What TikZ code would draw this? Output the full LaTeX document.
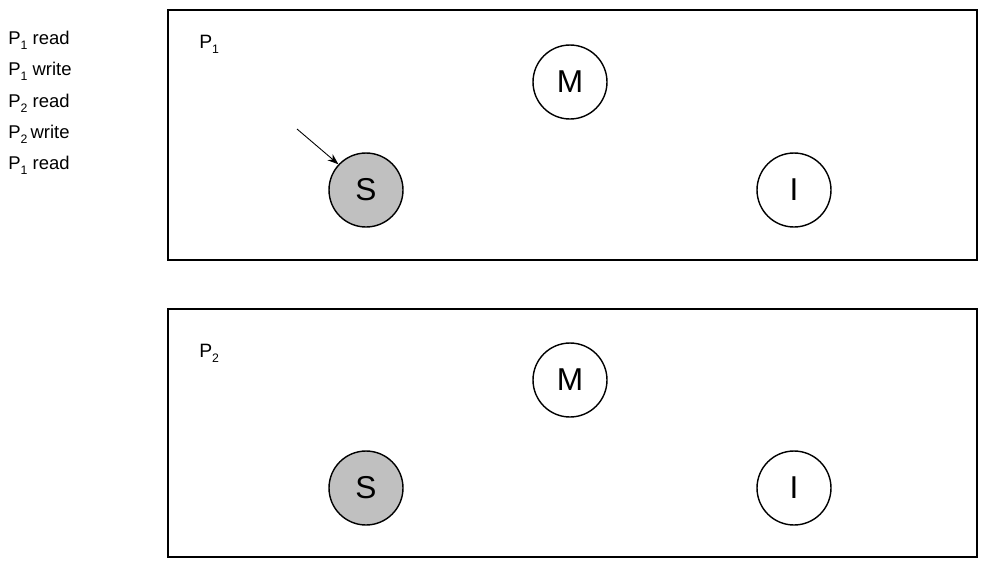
\documentclass[tikz,border=0pt]{standalone}
\usepackage{fontspec}
\setmainfont{Liberation Sans}
\usetikzlibrary{arrows.meta}
\newcommand{\psub}[1]{P\raisebox{-0.5ex}{\fontsize{7}{7}\selectfont #1}}
\definecolor{stategray}{RGB}{192,192,192}
\tikzset{
  state/.style={circle,draw,line width=0.8pt,minimum size=1.48cm,inner sep=0pt,font=\fontsize{18}{18}\selectfont},
  cachebox/.style={draw,line width=0.8pt},
  oplabel/.style={anchor=west,inner sep=0pt,font=\fontsize{10.5}{12}\selectfont}
}
\begin{document}
\begin{tikzpicture}[x=0.02cm,y=-0.02cm]
        \useasboundingbox (0,0) rectangle (998,565);
        % operation list
        \node [oplabel] (op1) at (8,40) {\psub{1} read};
        \node [oplabel] (op2) at (8,71) {\psub{1} write};
        \node [oplabel] (op3) at (8,103) {\psub{2} read};
        \node [oplabel] (op4) at (8,134) {\psub{2}\,write};
        \node [oplabel] (op5) at (8,165) {\psub{1} read};
        % processor 1
        \draw [cachebox] (168,10) rectangle (977,260);
        \node [oplabel,font=\fontsize{11}{12}\selectfont] (p1) at (199,44) {\psub{1}};
        \node [state] (m1) at (570,82) {M};
        \node [state,fill=stategray] (s1) at (366,190) {S};
        \node [state] (i1) at (794,190) {I};
        \coordinate (cur) at (297,129);
        \draw [-{Stealth[length=2.2mm,width=1.6mm]},line width=0.5pt] (cur) -- (s1.137);
        % processor 2
        \draw [cachebox] (168,309) rectangle (977,557);
        \node [oplabel,font=\fontsize{11}{12}\selectfont] (p2) at (199,353) {\psub{2}};
        \node [state] (m2) at (570,380) {M};
        \node [state,fill=stategray] (s2) at (366,488) {S};
        \node [state] (i2) at (794,488) {I};
\end{tikzpicture}
\end{document}
